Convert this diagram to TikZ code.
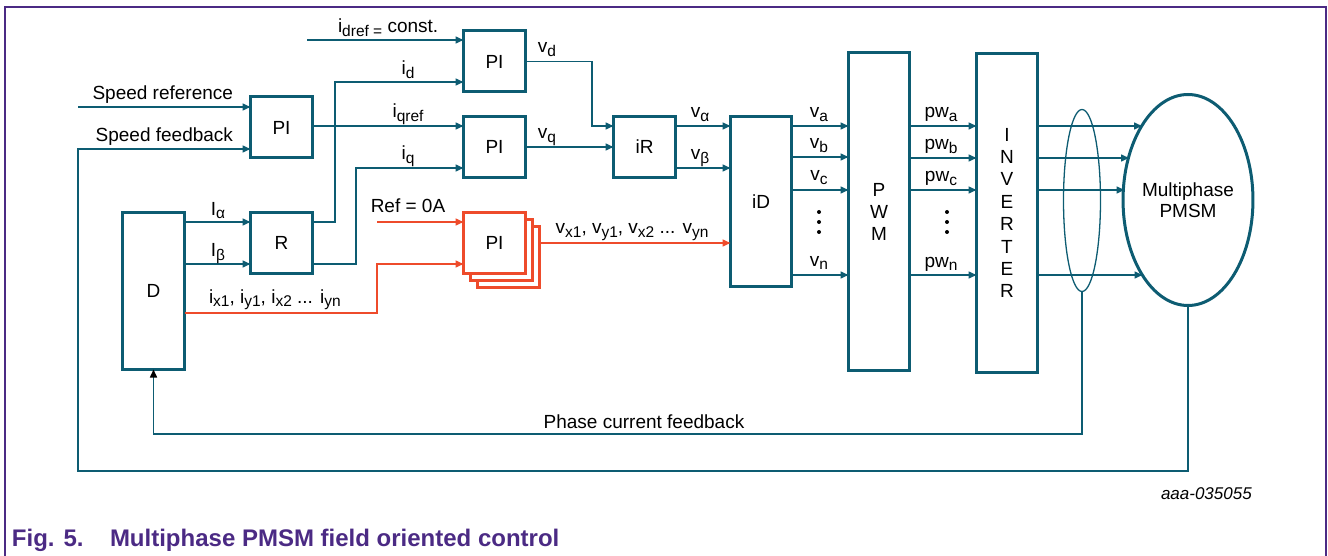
\documentclass[tikz,border=0pt]{standalone}
\usepackage{fontspec}
\setmainfont{Liberation Sans}
\usetikzlibrary{arrows.meta,shapes.geometric,calc}
\definecolor{tealc}{HTML}{0D5C72}
\definecolor{orgc}{HTML}{EE4B2B}
\definecolor{purpc}{HTML}{4B2A84}
\newcommand\sbx[1]{\raisebox{-3.5pt}{\fontsize{15.5}{16}\selectfont #1}}
\begin{document}
\begin{tikzpicture}[x=1pt,y=-1pt,
  every node/.style={font=\fontsize{19}{22}\selectfont, inner sep=0pt, outer sep=0pt},
  blk/.style={draw=tealc, line width=3pt, fill=white, minimum width=62pt, minimum height=61pt},
  oblk/.style={draw=orgc, line width=2.6pt, fill=white, minimum width=62pt, minimum height=61pt},
  arr/.style={draw=tealc, line width=1.5pt, -{Triangle[length=8pt,width=7pt]}},
  oarr/.style={draw=orgc, line width=1.5pt, -{Triangle[length=8pt,width=7pt]}},
  ln/.style={draw=tealc, line width=1.5pt},
  lab/.style={anchor=base},
  dot/.style={fill=black},
]
\useasboundingbox (0,0) rectangle (1328,556);
% frame
\draw[purpc, line width=1.3pt] (5,556) -- (5,7) -- (1326,7) -- (1326,556);

% blocks
\node[blk] (spi) at (281.5,127.5) {PI};
\node[blk] (pi1) at (494.5,61.5) {PI};
\node[blk] (pi2) at (494.5,147) {PI};
\node[blk] (iR) at (644.5,147) {iR};
\node[blk, minimum width=61pt, minimum height=170pt] (iD) at (761,201.5) {iD};
\node[blk, minimum width=61pt, minimum height=318pt, align=center] (pwm) at (879,211.5) {P\\W\\M};
\node[blk, minimum width=61pt, minimum height=318pt, align=center, font=\fontsize{19}{22.4}\selectfont] (inv) at (1007,213) {I\\N\\V\\E\\R\\T\\E\\R};
\node[blk] (R) at (281.5,243) {R};
\node[blk, minimum height=157pt] (D) at (153.5,291) {D};
\node[oblk] (opi3) at (508.5,257) {};
\node[oblk] (opi2) at (501.5,250) {};
\node[oblk] (opi) at (494.5,243) {PI};
\node[draw=tealc, line width=1.3pt, ellipse, minimum width=37pt, minimum height=182pt] (sell) at (1082,200.5) {};
\node[draw=tealc, line width=3pt, ellipse, minimum width=125pt, minimum height=211pt, align=center, font=\fontsize{19}{21}\selectfont] (motor) at (1188,200) {Multiphase\\PMSM};

% coordinates
\coordinate (sr) at (78,107);
\coordinate (fbc) at (78,471);
\coordinate (fbt) at (78,149);
\coordinate (idr) at (307,40);
\coordinate (idc) at (335,82);
\coordinate (iqc) at (356,168);
\coordinate (ixc) at (377,313);
\coordinate (ref) at (377,222);
\coordinate (vdc) at (592,126);
\coordinate (pcc) at (153.5,434);

% connectors
\draw[arr] (sr) -- (sr -| spi.west);
\draw[arr] (motor.south) |- (fbc) -- (fbt) -- (fbt -| spi.west);
\draw[arr] ([yshift=21pt]pi2.west -| spi.east) -- ([yshift=21pt]pi2.west);
\draw[arr] (idr) -- ([yshift=21.5pt]pi1.west);
\draw[arr] ([yshift=21pt]R.east) -| (idc) -- ([yshift=-20.5pt]pi1.west);
\draw[arr] ([yshift=-21pt]R.east) -| (iqc) -- ([yshift=-21pt]pi2.west);
\draw[arr] ([yshift=21pt]R.west -| D.east) -- ([yshift=21pt]R.west);
\draw[arr] ([yshift=-21pt]R.west -| D.east) -- ([yshift=-21pt]R.west);
\draw[oarr] (ixc -| D.east) -- (ixc) |- ([yshift=-21pt]opi.west);
\draw[oarr] (ref) -- ([yshift=21pt]opi.west);
\draw[oarr] (opi.center -| opi3.east) -- (opi.center -| iD.west);
\draw[arr] (pi1.east) -| (vdc) -- ([yshift=21pt]iR.west);
\draw[arr] (pi2.east) -- (iR.west);
\draw[arr] ([yshift=21pt]iR.east) -- ([yshift=21pt]iR.east -| iD.west);
\draw[arr] ([yshift=-21pt]iR.east) -- ([yshift=-21pt]iR.east -| iD.west);
\foreach \y in {126,157,190,275}{
  \coordinate (t) at (0,\y);
  \draw[arr] (iD.east |- t) -- (pwm.west |- t);
}
\foreach \y in {126,158,190,275}{
  \coordinate (t) at (0,\y);
  \draw[arr] (pwm.east |- t) -- (inv.west |- t);
}
\draw[arr] (inv.east |- 0,126) -- ($(motor.center)+(-46,-74)$);
\draw[arr] (inv.east |- 0,158) -- ($(motor.center)+(-59,-42)$);
\draw[arr] (inv.east |- 0,190) -- ($(motor.center)+(-63.5,-10)$);
\draw[arr] (inv.east |- 0,275) -- ($(motor.center)+(-45.5,75)$);
\draw[ln, -{Triangle[length=8pt,width=7pt,color=black]}] (sell.south) |- (pcc) -- (D.south);

% dots
\foreach \y in {212,222,232}{
  \fill[dot] (819,\y) circle (2pt);
  \fill[dot] (947,\y) circle (2pt);
}

% labels
\node[anchor=base east] (l1) at (233,100) {Speed reference};
\node[anchor=base east] (l2) at (233,142) {Speed feedback};
\node[anchor=base west] (l3) at (338,33) {i\sbx{dref =} const.};
\node[lab] (l4) at (408,75) {i\sbx{d}};
\node[lab] (l5) at (408,118) {i\sbx{qref}};
\node[lab] (l6) at (408,160) {i\sbx{q}};
\node[lab] (l7) at (218,215) {I\sbx{α}};
\node[lab] (l8) at (218,257) {I\sbx{β}};
\node[anchor=base west] (l9) at (209,303) {i\sbx{x1}, i\sbx{y1}, i\sbx{x2} ... i\sbx{yn}};
\node[lab] (l10) at (408,213) {Ref = 0A};
\node[lab] (l11) at (547,53) {v\sbx{d}};
\node[lab] (l12) at (547,139) {v\sbx{q}};
\node[lab] (l13) at (700,118) {v\sbx{α}};
\node[lab] (l14) at (700,160) {v\sbx{β}};
\node[lab] (l15) at (819,118) {v\sbx{a}};
\node[lab] (l16) at (819,149) {v\sbx{b}};
\node[lab] (l17) at (819,181) {v\sbx{c}};
\node[lab] (l18) at (819,266) {v\sbx{n}};
\node[lab] (l19) at (632,234) {v\sbx{x1}, v\sbx{y1}, v\sbx{x2} ... v\sbx{yn}};
\node[lab] (l20) at (941,118) {pw\sbx{a}};
\node[lab] (l21) at (941,150) {pw\sbx{b}};
\node[lab] (l22) at (941,182) {pw\sbx{c}};
\node[lab] (l23) at (941,267) {pw\sbx{n}};
\node[lab] (l24) at (644,428) {Phase current feedback};

% caption
\node[anchor=base west, font=\fontsize{17}{20}\selectfont\itshape] (code) at (1161,499) {aaa-035055};
\node[anchor=base west, text=purpc, font=\fontsize{24}{28}\selectfont\bfseries] (cap1) at (12,546) {Fig. 5.};
\node[anchor=base west, text=purpc, font=\fontsize{24}{28}\selectfont\bfseries] (cap2) at (110,546) {Multiphase PMSM field oriented control};
\end{tikzpicture}
\end{document}
